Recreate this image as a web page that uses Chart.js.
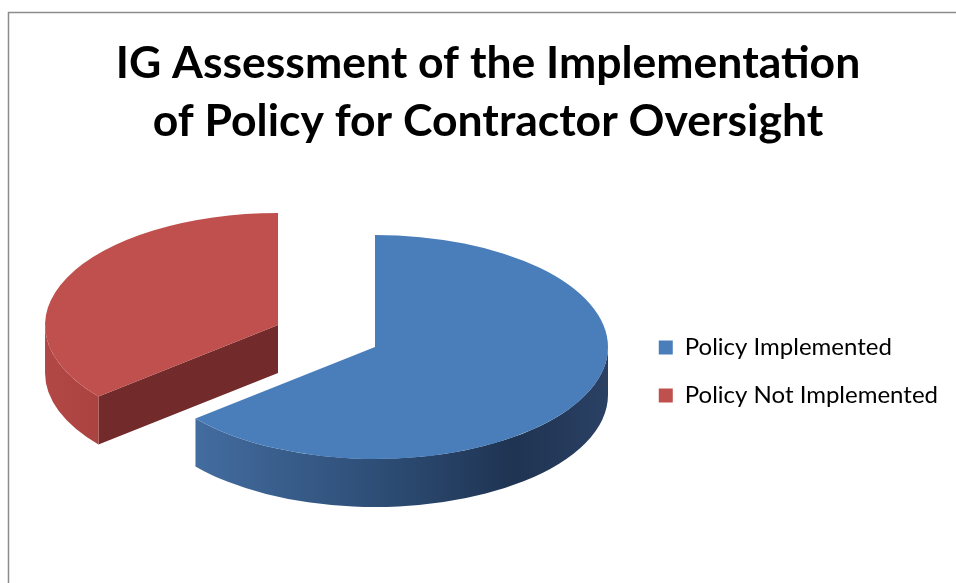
<!DOCTYPE html>
<html lang="en">
<head>
    <meta charset="UTF-8" />
    <title>IG Assessment of the Implementation of Policy for Contractor Oversight</title>
    <script src="https://cdn.jsdelivr.net/npm/chart.js"></script>
    <style>
        body {
            margin: 0;
            padding: 0;
            background: #fff;
        }

        .wrap {
            position: relative;
            width: 956px;
            height: 583px;
        }
    </style>
</head>
<body>
    <div class="wrap"><canvas id="policyChart"></canvas></div>

    <script>
        const labels = ['Policy Implemented', 'Policy Not Implemented'];
        const values = [64, 36];
        const sliceColors = ['#4a7ebb', '#c0504d'];

        // how far each slice is pulled out, as a share of the radius
        const explode = [0, 0.46];

        // tilted view of the pie
        const view = { cx: 375, cy: 347, rx: 233, ry: 112, depth: 48 };

        function sliceShift(arc, i) {
            const mid = (arc.startAngle + arc.endAngle) / 2;
            return {
                x: Math.cos(mid) * explode[i] * view.rx,
                y: Math.sin(mid) * explode[i] * view.ry
            };
        }

        function rimPoint(cx, cy, a, dz) {
            return [cx + Math.cos(a) * view.rx, cy + Math.sin(a) * view.ry + dz];
        }

        function wallGradient(ctx, cx, i) {
            const g = ctx.createLinearGradient(cx - view.rx, 0, cx + view.rx, 0);
            if (i === 0) {
                g.addColorStop(0, '#4a76ab');
                g.addColorStop(0.12, '#436c9f');
                g.addColorStop(0.55, '#2b4a71');
                g.addColorStop(0.8, '#1f3352');
                g.addColorStop(1, '#2b4164');
            } else {
                g.addColorStop(0, '#b24845');
                g.addColorStop(0.15, '#a8413f');
                g.addColorStop(1, '#8f3836');
            }
            return g;
        }

        const pie3d = {
            id: 'pie3d',
            beforeDraw(chart) {
                // chart frame
                const ctx = chart.ctx;
                ctx.save();
                ctx.strokeStyle = '#8c8c8c';
                ctx.lineWidth = 1.5;
                ctx.beginPath();
                ctx.moveTo(8.5, chart.height + 5);
                ctx.lineTo(8.5, 12.5);
                ctx.lineTo(chart.width + 5, 12.5);
                ctx.stroke();
                ctx.restore();
            },
            beforeDatasetDraw(chart, args) {
                const ctx = chart.ctx;
                const arcs = args.meta.data;
                const d = view.depth;

                // side walls first
                arcs.forEach((arc, i) => {
                    const s = sliceShift(arc, i);
                    const cx = view.cx + s.x, cy = view.cy + s.y;
                    const a0 = arc.startAngle, a1 = arc.endAngle;

                    // cut face on the start edge, seen when it turns to the front
                    if (explode[i] > 0 && Math.cos(a0) < 0) {
                        const p = rimPoint(cx, cy, a0, 0);
                        ctx.beginPath();
                        ctx.moveTo(cx, cy);
                        ctx.lineTo(p[0], p[1]);
                        ctx.lineTo(p[0], p[1] + d);
                        ctx.lineTo(cx, cy + d);
                        ctx.closePath();
                        ctx.fillStyle = '#722b2a';
                        ctx.fill();
                    }

                    // outer wall on the front half
                    const lo = Math.max(a0, 0), hi = Math.min(a1, Math.PI);
                    if (lo < hi) {
                        ctx.beginPath();
                        ctx.ellipse(cx, cy, view.rx, view.ry, 0, lo, hi);
                        ctx.ellipse(cx, cy + d, view.rx, view.ry, 0, hi, lo, true);
                        ctx.closePath();
                        ctx.fillStyle = wallGradient(ctx, cx, i);
                        ctx.fill();
                    }
                });

                // top faces, drawn by the arc elements in the tilted frame
                arcs.forEach((arc, i) => {
                    const s = sliceShift(arc, i);
                    const r = arc.outerRadius;
                    ctx.save();
                    ctx.translate(view.cx + s.x, view.cy + s.y);
                    ctx.scale(view.rx / r, view.ry / r);
                    ctx.translate(-arc.x, -arc.y);
                    arc.draw(ctx);
                    ctx.restore();
                });
                return false;
            }
        };

        new Chart(document.getElementById('policyChart'), {
            type: 'pie',
            data: {
                labels: labels,
                datasets: [{
                    data: values,
                    backgroundColor: sliceColors,
                    borderWidth: 0,
                    offset: 0
                }]
            },
            options: {
                responsive: true,
                maintainAspectRatio: false,
                animation: false,
                events: [],
                layout: { padding: { left: 28, right: 8, top: 0, bottom: 0 } },
                plugins: {
                    title: {
                        display: true,
                        text: ['IG Assessment of the Implementation', 'of Policy for Contractor Oversight'],
                        color: '#000',
                        font: { family: 'Lato', size: 44.5, weight: 'bold', lineHeight: 58 / 44.5 },
                        padding: { top: 35, bottom: 9 }
                    },
                    legend: {
                        position: 'right',
                        fullSize: false,
                        labels: {
                            color: '#000',
                            boxWidth: 14,
                            boxHeight: 14,
                            padding: 24,
                            font: { family: 'Lato', size: 24 }
                        }
                    },
                    tooltip: { enabled: false }
                }
            },
            plugins: [pie3d]
        });
    </script>
</body>
</html>
